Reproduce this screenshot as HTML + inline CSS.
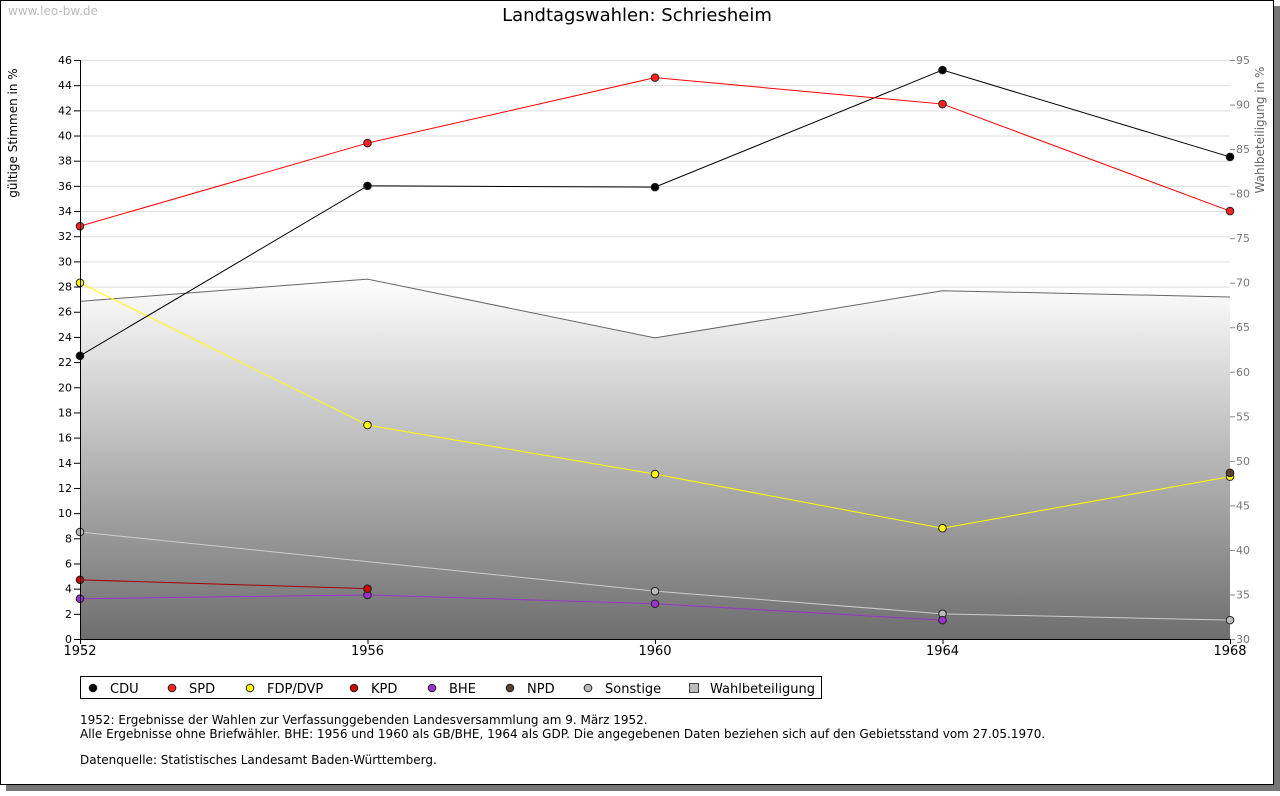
<!DOCTYPE html>
<html><head><meta charset="utf-8"><style>
body{margin:0;background:#fff;font-family:"Liberation Sans","DejaVu Sans",sans-serif}
svg text{font-family:"DejaVu Sans","Liberation Sans",sans-serif}
</style></head><body>
<svg id="c" width="1280" height="791" xmlns="http://www.w3.org/2000/svg">
<defs><linearGradient id="g" x1="0" y1="0" x2="0" y2="1"><stop offset="0" stop-color="#ffffff"/><stop offset="1" stop-color="#6e6e6e"/></linearGradient></defs>
<rect x="6" y="6" width="1274" height="785" fill="#777"/>
<rect x="0.5" y="0.5" width="1273" height="784" fill="#fff" stroke="#000"/>
<text x="8" y="15" font-size="12" fill="#bbb">www.leo-bw.de</text>
<text x="637" y="21" font-size="18" text-anchor="middle">Landtagswahlen: Schriesheim</text>
<text transform="translate(17,133) rotate(-90)" font-size="12" text-anchor="middle">gültige Stimmen in %</text>
<text transform="translate(1264,130) rotate(-90)" font-size="12" fill="#666" text-anchor="middle">Wahlbeteiligung in %</text>
<g id="grid"></g><g id="area"></g><g id="series"></g><g id="axes"></g>
<rect x="80.5" y="676.5" width="741" height="22" fill="#fff" stroke="#000"/>
<g id="legend"></g>
<text x="80" y="724" font-size="12">1952: Ergebnisse der Wahlen zur Verfassunggebenden Landesversammlung am 9. März 1952.</text>
<text x="80" y="738" font-size="12">Alle Ergebnisse ohne Briefwähler. BHE: 1956 und 1960 als GB/BHE, 1964 als GDP. Die angegebenen Daten beziehen sich auf den Gebietsstand vom 27.05.1970.</text>
<text x="80" y="764" font-size="12">Datenquelle: Statistisches Landesamt Baden-Württemberg.</text>
</svg>
<script>
const years=[1952,1956,1960,1964,1968];
const cdu=[22.5,36.0,35.9,45.2,38.3];
const spd=[32.8,39.4,44.6,42.5,34.0];
const fdp=[28.3,17.0,13.1,8.8,12.9];
const kpd=[4.7,4.0,null,null,null];
const bhe=[3.2,3.5,2.8,1.5,null];
const npd=[null,null,null,null,13.2];
const sonst=[8.5,null,3.8,2.0,1.5];
const turnout=[67.9,70.4,63.8,69.1,68.4];
const leftTicks=[0,2,4,6,8,10,12,14,16,18,20,22,24,26,28,30,32,34,36,38,40,42,44,46];
const rightTicks=[30,35,40,45,50,55,60,65,70,75,80,85,90,95];
const NS="http://www.w3.org/2000/svg";
const X0=80,X1=1230,Y0=639,Y1=60;
const x=v=>X0+(v-1952)/(1968-1952)*(X1-X0);
const y=v=>Y0-v/46*(Y0-Y1);
const y2=v=>Y0-(v-30)/65*(Y0-Y1);
function mk(t,a,p){const e=document.createElementNS(NS,t);for(const k in a)e.setAttribute(k,a[k]);p.appendChild(e);return e;}
const G=document.getElementById('grid'),A=document.getElementById('area'),S=document.getElementById('series'),AX=document.getElementById('axes'),L=document.getElementById('legend');
leftTicks.forEach(t=>{if(t>0){const l=mk('line',{x1:X0,x2:X1,y1:y(t)+.5,y2:y(t)+.5,stroke:'#ddd'},G);}
const tk=mk('line',{x1:X0-6,x2:X0,y1:y(t)+.5,y2:y(t)+.5,stroke:'#000'},AX);
const tx=mk('text',{x:X0-8,y:y(t)+4,'font-size':11,'text-anchor':'end'},AX);tx.textContent=t;});
rightTicks.forEach(t=>{const tk=mk('line',{x1:X1,x2:X1+5,y1:y2(t)+.5,y2:y2(t)+.5,stroke:'#888'},AX);
const tx=mk('text',{x:X1+6,y:y2(t)+4,'font-size':11,fill:'#777'},AX);tx.textContent=t;});
years.forEach(v=>{const tk=mk('line',{x1:x(v)+.5,x2:x(v)+.5,y1:Y0,y2:Y0+5,stroke:'#000'},AX);
const tx=mk('text',{x:x(v),y:Y0+16,'font-size':13,'text-anchor':'middle'},AX);tx.textContent=v;});
const ax=mk('line',{x1:X0+.5,x2:X0+.5,y1:Y1,y2:Y0,stroke:'#000'},AX);
const ax2=mk('line',{x1:X0,x2:X1,y1:Y0+.5,y2:Y0+.5,stroke:'#000'},AX);
let d='M'+x(years[0])+','+Y0;turnout.forEach((v,i)=>d+=' L'+x(years[i])+','+y2(v));d+=' L'+x(years[years.length-1])+','+Y0+'Z';
const ar=mk('path',{d:d,fill:'url(#g)'},A);
const al=mk('polyline',{points:turnout.map((v,i)=>x(years[i])+','+y2(v)).join(' '),fill:'none',stroke:'#666'},A);
function series(name,vals,line,fill){const pts=[];vals.forEach((v,i)=>{if(v!==null)pts.push([x(years[i]),y(v)]);});
if(pts.length>1){const p=mk('polyline',{points:pts.map(q=>q.join(',')).join(' '),fill:'none',stroke:line},S);}
pts.forEach(q=>{const c=mk('circle',{cx:q[0],cy:q[1],r:3.8,fill:fill,stroke:'#222','stroke-width':1},S);});}
series('sonstige',sonst,'#ccc','#bbb');
series('bhe',bhe,'#9933cc','#9933cc');
series('kpd',kpd,'#aa0000','#cc0000');
series('fdp',fdp,'#ffff00','#ffff00');
series('cdu',cdu,'#000','#000');
series('spd',spd,'#ff0000','#ff2020');
series('npd',npd,'#5a4030','#5a4030');
const leg=[['CDU','#000',93],['SPD','#ff2020',172],['FDP/DVP','#ffff00',250],['KPD','#cc0000',354],['BHE','#9933cc',432],['NPD','#5a4030',510],['Sonstige','#bbb',588]];
leg.forEach(l=>{const c=mk('circle',{cx:l[2],cy:688,r:3.8,fill:l[1],stroke:'#222'},L);
const t=mk('text',{x:l[2]+17,y:693,'font-size':13},L);t.textContent=l[0];});
const r=mk('rect',{x:689.5,y:683.5,width:9,height:9,fill:'#bbb',stroke:'#444'},L);
const t=mk('text',{x:710,y:693,'font-size':13},L);t.textContent='Wahlbeteiligung';
</script>
</body></html>
